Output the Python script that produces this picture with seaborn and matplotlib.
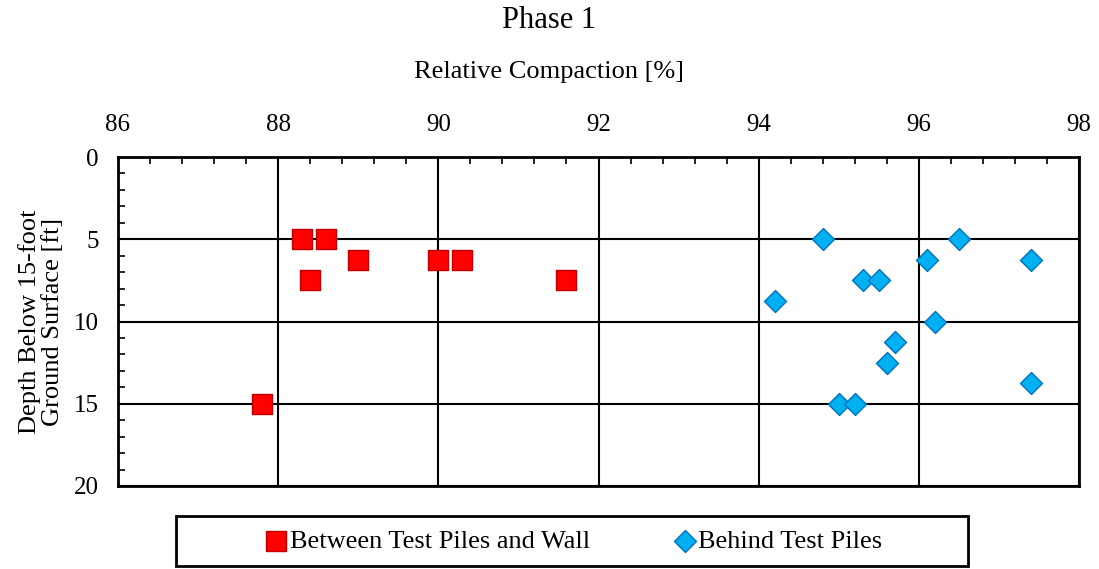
import numpy as np
import pandas as pd
import matplotlib
matplotlib.use("Agg")
import matplotlib.pyplot as plt
import seaborn as sns
from matplotlib.ticker import MultipleLocator
from matplotlib.patches import Rectangle

# Between test piles and wall
between_rc = [88.3, 88.6, 89.0, 90.0, 90.3, 88.4, 91.6, 87.8]
between_depth = [5.0, 5.0, 6.25, 6.25, 6.25, 7.5, 7.5, 15.0]

# Behind test piles
behind_rc = [94.8, 96.5, 96.1, 97.4, 95.3, 95.5, 94.2, 96.2, 95.7, 95.6, 97.4, 95.0, 95.2]
behind_depth = [5.0, 5.0, 6.25, 6.25, 7.5, 7.5, 8.75, 10.0, 11.25, 12.5, 13.75, 15.0, 15.0]

df_between = pd.DataFrame({"rc": between_rc, "depth": between_depth})
df_behind = pd.DataFrame({"rc": behind_rc, "depth": behind_depth})

sns.set_style("white")
plt.rcParams["font.family"] = ["Liberation Serif", "DejaVu Serif"]
plt.rcParams["text.color"] = "black"
plt.rcParams["axes.labelcolor"] = "black"
plt.rcParams["xtick.color"] = "black"
plt.rcParams["ytick.color"] = "black"

W, H = 1099, 569
fig = plt.figure(figsize=(W / 100, H / 100), dpi=100)
ax = fig.add_axes([118 / W, 1 - 486 / H, (1079 - 118) / W, (486 - 157) / H])

sns.scatterplot(data=df_between, x="rc", y="depth", marker="s", s=190,
                color="#FF0000", edgecolor="#C00000", linewidth=1,
                label="Between Test Piles and Wall", ax=ax, zorder=3)
sns.scatterplot(data=df_behind, x="rc", y="depth", marker="D", s=125,
                color="#00B0F0", edgecolor="#0070C0", linewidth=1,
                label="Behind Test Piles", ax=ax, zorder=3)

ax.set_xlim(86, 98)
ax.set_ylim(20, 0)
ax.xaxis.set_major_locator(MultipleLocator(2))
ax.xaxis.set_minor_locator(MultipleLocator(0.4))
ax.yaxis.set_major_locator(MultipleLocator(5))
ax.yaxis.set_minor_locator(MultipleLocator(1))
ax.xaxis.tick_top()
ax.tick_params(axis="x", which="both", direction="in", top=True, bottom=False,
               labelsize=18, pad=15, labelcolor="black")
ax.tick_params(axis="y", which="both", direction="in", left=True, right=False,
               labelsize=18, pad=14, labelcolor="black")
ax.tick_params(which="major", length=0)
ax.tick_params(which="minor", length=5, width=1.2, color="black")
ax.grid(True, which="major", color="black", linewidth=1.5, zorder=1)
ax.set_axisbelow(True)
for sp in ax.spines.values():
    sp.set_color("black")
    sp.set_linewidth(2)

ax.set_xlabel("")
ax.set_ylabel("Depth Below 15-foot\nGround Surface [ft]", fontsize=19,
              linespacing=1.05, color="black")
ax.yaxis.set_label_coords((64 - 118) / 961, 0.5)
fig.text(0.5, 1 - 72 / H, "Relative Compaction [%]", ha="center", va="center",
         fontsize=19, color="black")
fig.text(0.5, 1 - 20 / H, "Phase 1", ha="center", va="center", fontsize=22,
         color="black")

ax.legend_.remove()
h, l = ax.get_legend_handles_labels()
leg = fig.legend(h, l, loc="center", bbox_to_anchor=(574 / W, 1 - 541 / H), ncol=2,
                 fontsize=19, frameon=False, handletextpad=0.1, columnspacing=3.2,
                 handlelength=0.8)
for t in leg.get_texts():
    t.set_color("black")
fig.add_artist(Rectangle((176 / W, 1 - 566 / H), (968 - 176) / W, 50 / H,
                         transform=fig.transFigure, fill=False,
                         edgecolor="black", linewidth=2))

fig.savefig("out.png", dpi=100)
